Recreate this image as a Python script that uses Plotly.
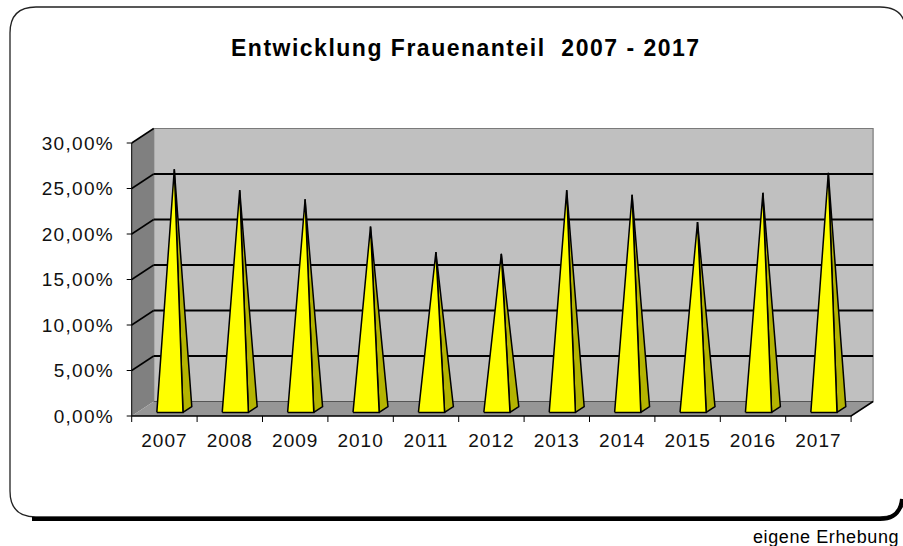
import plotly.graph_objects as go

# ---------------- data ----------------
categories = ["2007", "2008", "2009", "2010", "2011", "2012",
              "2013", "2014", "2015", "2016", "2017"]
values = [26.4, 24.1, 23.1, 20.1, 17.3, 17.1, 24.1, 23.6, 20.6, 23.8, 26.0]  # percent
y_ticks = [0, 5, 10, 15, 20, 25, 30]
y_tick_labels = ["0,00%", "5,00%", "10,00%", "15,00%", "20,00%", "25,00%", "30,00%"]
title_text = "Entwicklung Frauenanteil  2007 - 2017"
source_text = "eigene Erhebung"

# ---------------- geometry / style ----------------
W, H = 903, 546
L, R, T, B = 125, 19, 125, 121
PW, PH = W - L - R, H - T - B
X0_PX, PX_PER_CAT = 131.7, 65.4      # pixel of x=0, pixels per category
Y0_PX, PX_PER_PCT = 416.0, 9.1       # pixel of y=0, pixels per percent
xmin = -(X0_PX - L) / PX_PER_CAT
xmax = xmin + PW / PX_PER_CAT
ymax = (Y0_PX - T) / PX_PER_PCT
ymin = ymax - PH / PX_PER_PCT

DX = 22 / PX_PER_CAT     # depth offset in category units
DY = 14.5 / PX_PER_PCT   # depth offset in percent units
YTOP = max(y_ticks)
n = len(categories)

def px_x(px):
    return (px - L) / PW

def px_y(py):
    return 1 - (py - T) / PH

def spaced(s, ls):
    return f'<span style="letter-spacing:{ls}px">{s}</span>'

fig = go.Figure()

def poly(xs, ys, fill, line_color=None, lw=0):
    fig.add_trace(go.Scatter(
        x=xs, y=ys, mode="lines", fill="toself", fillcolor=fill,
        line=dict(color=line_color or fill, width=lw),
        hoverinfo="skip", showlegend=False))

def lines(xs, ys, color, lw):
    fig.add_trace(go.Scatter(
        x=xs, y=ys, mode="lines", line=dict(color=color, width=lw),
        hoverinfo="skip", showlegend=False))

# back wall
poly([DX, n + DX, n + DX, DX, DX], [DY, DY, YTOP + DY, YTOP + DY, DY],
     "#C0C0C0", "#7a7a7a", 1.2)
# left wall
poly([0, DX, DX, 0, 0], [0, DY, YTOP + DY, YTOP, 0], "#808080")
# floor
poly([0, n, n + DX, DX, 0], [0, 0, DY, DY, 0], "#969696")

# gridlines on back wall
gx, gy = [], []
for v in y_ticks[1:-1]:
    gx += [DX, n + DX, None]
    gy += [v + DY, v + DY, None]
lines(gx, gy, "#000000", 2)
# floor/back wall seam
lines([DX, n + DX], [DY, DY], "#555555", 1)
# gridlines on left wall
lx, ly = [], []
for v in y_ticks[1:]:
    lx += [0, DX, None]
    ly += [v, v + DY, None]
lines(lx, ly, "#000000", 1.5)

# axes lines and ticks
lines([0, 0], [0, YTOP], "#000000", 1)
lines([0, n, n + DX], [0, 0, DY], "#000000", 1.5)
tx, ty = [], []
for v in y_ticks:
    tx += [-5 / PX_PER_CAT, 0, None]
    ty += [v, v, None]
for k in range(n + 1):
    tx += [k, k, None]
    ty += [0, -6 / PX_PER_PCT, None]
lines(tx, ty, "#000000", 1)

# pyramids
HALF = 0.2
Z0, ZC, Z1 = 0.25, 0.45, 0.65
fx, fy, sx, sy = [], [], [], []
for k, v in enumerate(values):
    c = k + 0.5
    ax, ay = c + ZC * DX, v + ZC * DY
    flx, frx, fby = c - HALF + Z0 * DX, c + HALF + Z0 * DX, Z0 * DY
    brx, bby = c + HALF + Z1 * DX, Z1 * DY
    fx += [flx, frx, ax, flx, None]
    fy += [fby, fby, ay, fby, None]
    sx += [frx, brx, ax, frx, None]
    sy += [fby, bby, ay, fby, None]
fig.add_trace(go.Scatter(x=sx, y=sy, mode="lines", fill="toself",
                         fillcolor="#B4B400", line=dict(color="#000000", width=1.5),
                         hoverinfo="skip", showlegend=False))
fig.add_trace(go.Scatter(x=fx, y=fy, mode="lines", fill="toself",
                         fillcolor="#FFFF00", line=dict(color="#000000", width=1.5),
                         hoverinfo="skip", showlegend=False))

# frame (rounded rectangle with shadow)
fl, ft, fr, fb, rad = 10, 7, 906, 517, 26
frame_path = (
    f"M {px_x(fl + rad)},{px_y(ft)} L {px_x(fr - rad)},{px_y(ft)} "
    f"Q {px_x(fr)},{px_y(ft)} {px_x(fr)},{px_y(ft + rad)} "
    f"L {px_x(fr)},{px_y(fb - rad)} Q {px_x(fr)},{px_y(fb)} {px_x(fr - rad)},{px_y(fb)} "
    f"L {px_x(fl + rad)},{px_y(fb)} Q {px_x(fl)},{px_y(fb)} {px_x(fl)},{px_y(fb - rad)} "
    f"L {px_x(fl)},{px_y(ft + rad)} Q {px_x(fl)},{px_y(ft)} {px_x(fl + rad)},{px_y(ft)} Z"
)
shadow_path = (
    f"M {px_x(fl + rad - 4)},{px_y(fb + 2)} L {px_x(fr - rad)},{px_y(fb + 2)} "
    f"Q {px_x(fr - 6)},{px_y(fb + 2)} {px_x(fr - 4)},{px_y(fb - rad + 8)}"
)
fig.add_shape(type="path", path=frame_path, xref="paper", yref="paper",
              line=dict(color="#222222", width=1.3), layer="above")
fig.add_shape(type="path", path=shadow_path, xref="paper", yref="paper",
              line=dict(color="#000000", width=4), layer="above")

FONT = "Liberation Sans, Arial, sans-serif"
fig.add_annotation(text="<b>" + spaced(title_text, 1.5) + "</b>", xref="paper", yref="paper",
                   x=px_x(466), y=px_y(48), xanchor="center", yanchor="middle",
                   showarrow=False, font=dict(family=FONT, size=23, color="#000000"))
fig.add_annotation(text=spaced(source_text, 0.6), xref="paper", yref="paper",
                   x=px_x(751), y=px_y(537), xanchor="left", yanchor="middle",
                   showarrow=False, font=dict(family=FONT, size=18, color="#000000"))

fig.update_layout(
    width=W, height=H,
    margin=dict(l=L, r=R, t=T, b=B, autoexpand=False),
    paper_bgcolor="#FFFFFF", plot_bgcolor="#FFFFFF",
    showlegend=False,
    xaxis=dict(range=[xmin, xmax], showgrid=False, zeroline=False, showline=False,
               tickmode="array", tickvals=[k + 0.5 for k in range(n)],
               ticktext=[spaced(c, 1) for c in categories], ticks="", ticklabelstandoff=2,
               tickfont=dict(family=FONT, size=19, color="#111111"), fixedrange=True),
    yaxis=dict(range=[ymin, ymax], showgrid=False, zeroline=False, showline=False,
               tickmode="array", tickvals=y_ticks,
               ticktext=[spaced(t, 1.3) for t in y_tick_labels],
               ticks="", ticklabelstandoff=10,
               tickfont=dict(family=FONT, size=19, color="#111111"), fixedrange=True),
)

fig.write_html("out.html", config={"displayModeBar": False},
               post_script="document.body.style.margin='0';document.body.style.overflow='hidden';")
